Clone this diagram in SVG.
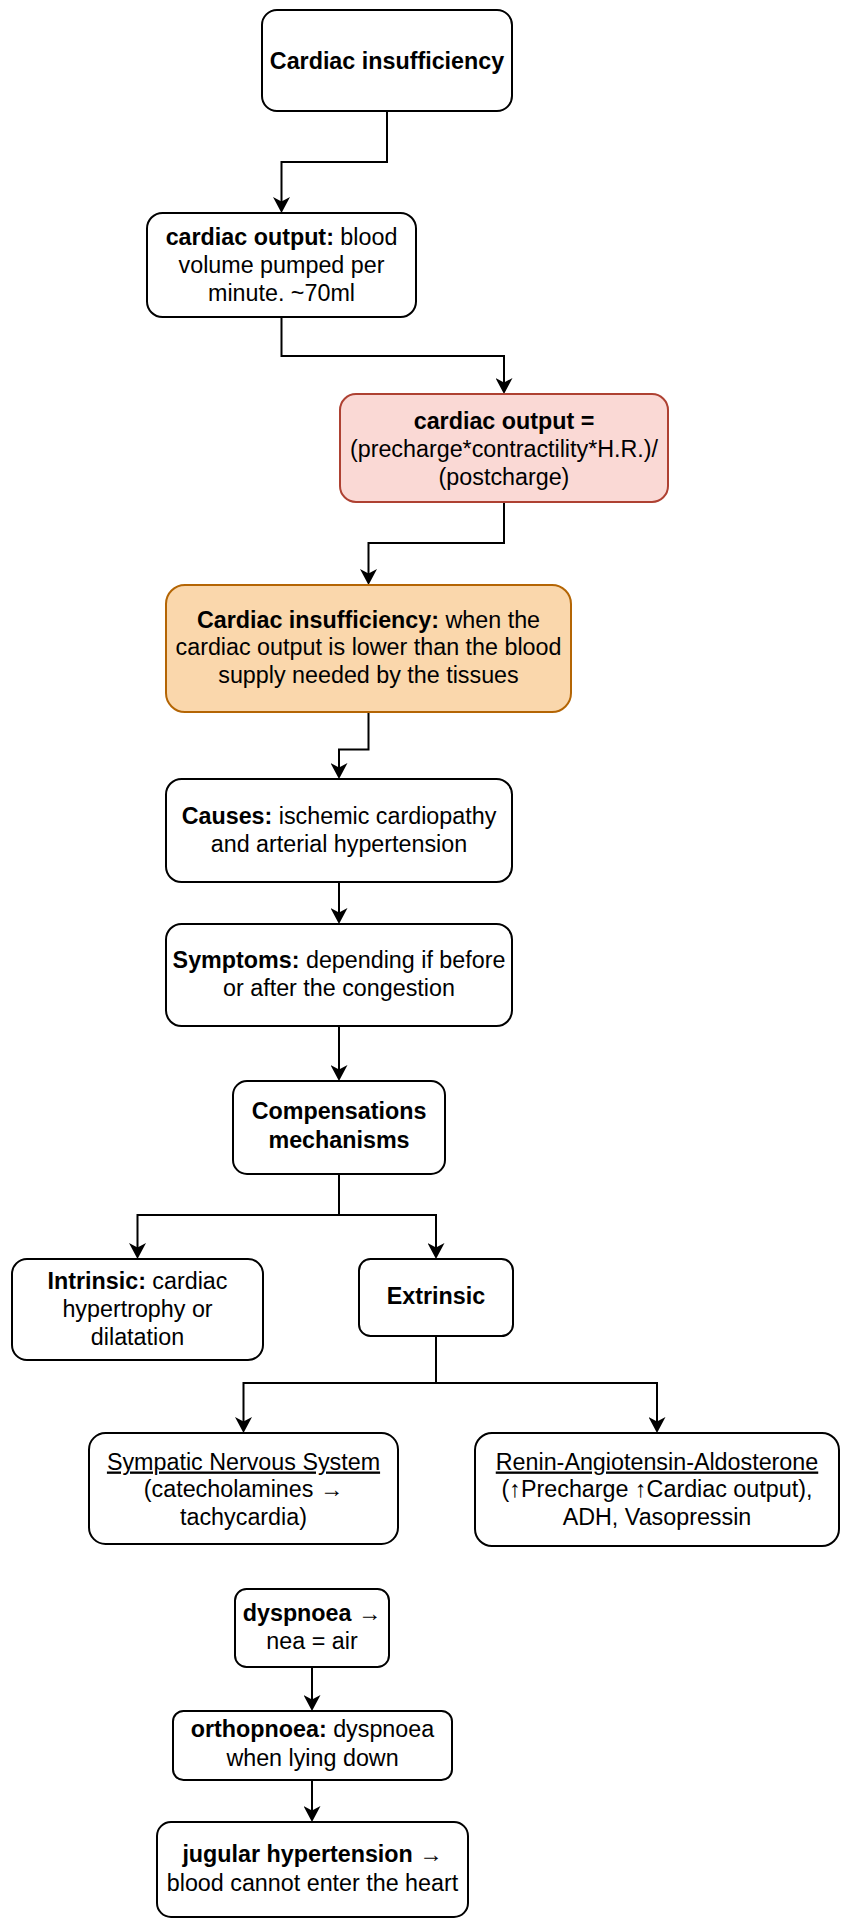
<svg xmlns="http://www.w3.org/2000/svg" width="845" height="1919" viewBox="0 0 845 1919">
  <defs>
    <style>
      .box { fill: #ffffff; stroke: #000000; stroke-width: 2; }
      .pink { fill: #fad9d5; stroke: #ae4132; }
      .orange { fill: #fad7ac; stroke: #b46504; }
      .t { font-family: "Liberation Sans", Arial, Helvetica, sans-serif; font-size: 23.3px; fill: #000000; text-anchor: middle; }
      .b { font-weight: bold; }
      .u { text-decoration: underline; }
      .edge { fill: none; stroke: #000000; stroke-width: 2; marker-end: url(#arrow); }
    </style>
    <marker id="arrow" viewBox="0 0 16 17" markerWidth="16" markerHeight="17" refX="5" refY="8.5" orient="auto" markerUnits="userSpaceOnUse">
      <path d="M0,0 L16,8.5 L0,17 L4.5,8.5 Z" fill="#000000"/>
    </marker>
  </defs>

  <rect width="845" height="1919" fill="#ffffff"/>

  <!-- connectors -->
  <g id="connectors">
    <path class="edge" d="M387,111 V162 H281.5 V202"/>
    <path class="edge" d="M281.5,317 V356 H504 V383"/>
    <path class="edge" d="M504,502 V543 H368.5 V574"/>
    <path class="edge" d="M368.5,712 V749.5 H339 V768"/>
    <path class="edge" d="M339,882 V913"/>
    <path class="edge" d="M339,1026 V1070"/>
    <path class="edge" d="M339,1174 V1215 H137.5 V1248"/>
    <path class="edge" d="M339,1174 V1215 H436 V1248"/>
    <path class="edge" d="M436,1336 V1383 H243.5 V1422"/>
    <path class="edge" d="M436,1336 V1383 H657 V1422"/>
    <path class="edge" d="M312,1667 V1700"/>
    <path class="edge" d="M312,1780 V1811"/>
  </g>

  <g id="cardiac-insufficiency">
    <rect class="box" x="262" y="10" width="250" height="101" rx="15"/>
    <text class="t b" x="387" y="68.5">Cardiac insufficiency</text>
  </g>

  <g id="cardiac-output-def">
    <rect class="box" x="147" y="213" width="269" height="104" rx="15.5"/>
    <text class="t" x="281.5" y="244.5"><tspan class="b">cardiac output:</tspan> blood</text>
    <text class="t" x="281.5" y="273">volume pumped per</text>
    <text class="t" x="281.5" y="301">minute. ~70ml</text>
  </g>

  <g id="cardiac-output-formula">
    <rect class="box pink" x="340" y="394" width="328" height="108" rx="16"/>
    <text class="t b" x="504" y="428.5">cardiac output =</text>
    <text class="t" x="504" y="456.5">(precharge*contractility*H.R.)/</text>
    <text class="t" x="504" y="484.5">(postcharge)</text>
  </g>

  <g id="insufficiency-def">
    <rect class="box orange" x="166" y="585" width="405" height="127" rx="19"/>
    <text class="t" x="368.5" y="627.5"><tspan class="b">Cardiac insufficiency:</tspan> when the</text>
    <text class="t" x="368.5" y="655">cardiac output is lower than the blood</text>
    <text class="t" x="368.5" y="682.5">supply needed by the tissues</text>
  </g>

  <g id="causes">
    <rect class="box" x="166" y="779" width="346" height="103" rx="15.5"/>
    <text class="t" x="339" y="823.5"><tspan class="b">Causes:</tspan> ischemic cardiopathy</text>
    <text class="t" x="339" y="851.5">and arterial hypertension</text>
  </g>

  <g id="symptoms">
    <rect class="box" x="166" y="924" width="346" height="102" rx="15.5"/>
    <text class="t" x="339" y="967.5"><tspan class="b">Symptoms:</tspan> depending if before</text>
    <text class="t" x="339" y="996">or after the congestion</text>
  </g>

  <g id="compensations">
    <rect class="box" x="233" y="1081" width="212" height="93" rx="14"/>
    <text class="t b" x="339" y="1119">Compensations</text>
    <text class="t b" x="339" y="1147.5">mechanisms</text>
  </g>

  <g id="intrinsic">
    <rect class="box" x="12" y="1259" width="251" height="101" rx="15"/>
    <text class="t" x="137.5" y="1288.5"><tspan class="b">Intrinsic:</tspan> cardiac</text>
    <text class="t" x="137.5" y="1316.5">hypertrophy or</text>
    <text class="t" x="137.5" y="1344.5">dilatation</text>
  </g>

  <g id="extrinsic">
    <rect class="box" x="359" y="1259" width="154" height="77" rx="11.5"/>
    <text class="t b" x="436" y="1304">Extrinsic</text>
  </g>

  <g id="sympatic">
    <rect class="box" x="89" y="1433" width="309" height="111" rx="16.5"/>
    <text class="t" x="243.5" y="1469.5"><tspan class="u">Sympatic Nervous System</tspan></text>
    <text class="t" x="243.5" y="1497">(catecholamines →</text>
    <text class="t" x="243.5" y="1524.5">tachycardia)</text>
  </g>

  <g id="renin">
    <rect class="box" x="475" y="1433" width="364" height="113" rx="17"/>
    <text class="t" x="657" y="1469.5"><tspan class="u">Renin-Angiotensin-Aldosterone</tspan></text>
    <text class="t" x="657" y="1497">(↑Precharge ↑Cardiac output),</text>
    <text class="t" x="657" y="1524.5">ADH, Vasopressin</text>
  </g>

  <g id="dyspnoea">
    <rect class="box" x="235" y="1589" width="154" height="78" rx="11.5"/>
    <text class="t" x="312" y="1620.5"><tspan class="b">dyspnoea</tspan> →</text>
    <text class="t" x="312" y="1649">nea = air</text>
  </g>

  <g id="orthopnoea">
    <rect class="box" x="173" y="1711" width="279" height="69" rx="10.5"/>
    <text class="t" x="312.5" y="1736.5"><tspan class="b">orthopnoea:</tspan> dyspnoea</text>
    <text class="t" x="312.5" y="1765.5">when lying down</text>
  </g>

  <g id="jugular">
    <rect class="box" x="157" y="1822" width="311" height="95" rx="14"/>
    <text class="t" x="312.5" y="1861.5"><tspan class="b">jugular hypertension</tspan> →</text>
    <text class="t" x="312.5" y="1890.5">blood cannot enter the heart</text>
  </g>
</svg>
